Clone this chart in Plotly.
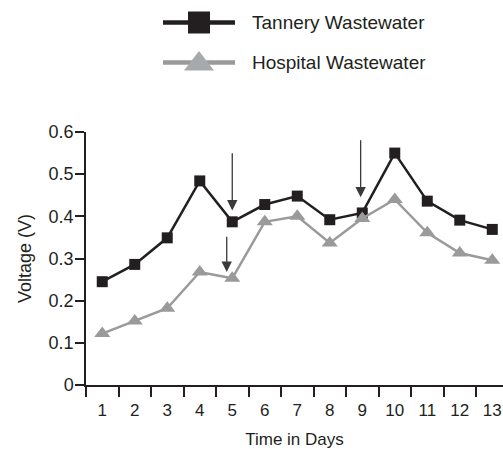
import plotly.graph_objects as go

days = list(range(1, 14))
tannery = [0.245, 0.286, 0.349, 0.484, 0.387, 0.428, 0.448, 0.392, 0.408, 0.550, 0.436, 0.391, 0.369]
hospital = [0.122, 0.152, 0.182, 0.268, 0.253, 0.387, 0.400, 0.337, 0.395, 0.440, 0.361, 0.313, 0.296]
series_names = ["Tannery Wastewater", "Hospital Wastewater"]

# arrows: (x, tail y, tip y)
arrow_x = [5.0, 4.83, 8.95]
arrow_tail = [0.553, 0.355, 0.584]
arrow_tip = [0.414, 0.268, 0.445]

y_ticks = [0, 0.1, 0.2, 0.3, 0.4, 0.5, 0.6]
y_ticktext = ["0", "0.1", "0.2", "0.3", "0.4", "0.5", "0.6"]

W, H = 503, 449
FONT = "Liberation Sans, Arial, sans-serif"
DARK = "#231f20"
GRAY = "#9a9a9a"
LGRAY = "#a8a9ab"

fig = go.Figure()
fig.add_trace(go.Scatter(x=days, y=tannery, mode="lines+markers", name=series_names[0],
                         line=dict(color=DARK, width=2.5),
                         marker=dict(symbol="square", size=11, color=DARK),
                         showlegend=False))
fig.add_trace(go.Scatter(x=days, y=hospital, mode="lines+markers", name=series_names[1],
                         line=dict(color=GRAY, width=2.5),
                         marker=dict(symbol="triangle-up", size=14, color=GRAY),
                         showlegend=False))

# custom legend on an overlay pixel axis
leg_rows_y = [22.5, 62.5]
leg_colors = [DARK, GRAY]
leg_mcolors = [DARK, LGRAY]
leg_symbols = ["square", "triangle-up"]
leg_sizes = [22, 26]
for i in range(2):
    fig.add_trace(go.Scatter(x=[163, 235], y=[leg_rows_y[i]] * 2, mode="lines",
                             line=dict(color=leg_colors[i], width=4.5),
                             xaxis="x2", yaxis="y2", showlegend=False, hoverinfo="skip"))
    fig.add_trace(go.Scatter(x=[199], y=[leg_rows_y[i] + (1.5 if i == 1 else 0)], mode="markers",
                             marker=dict(symbol=leg_symbols[i], size=leg_sizes[i], color=leg_mcolors[i]),
                             xaxis="x2", yaxis="y2", showlegend=False, hoverinfo="skip"))
    fig.add_annotation(x=250, y=leg_rows_y[i], xref="x2", yref="y2", text=series_names[i],
                       showarrow=False, xanchor="left", yanchor="middle",
                       font=dict(size=19, color=DARK, family=FONT))

for xa, yt, yh in zip(arrow_x, arrow_tail, arrow_tip):
    fig.add_annotation(x=xa, y=yh, ax=xa, ay=yt, xref="x", yref="y", axref="x", ayref="y",
                       text="", showarrow=True, arrowhead=2, arrowsize=1.6, arrowwidth=1.3,
                       arrowcolor="#3a3a3a", standoff=0, startstandoff=0)

x0 = 86 / W
y_bot = (H - 385) / H
y_top = (H - 132) / H
fig.update_layout(
    width=W, height=H,
    margin=dict(l=0, r=0, t=0, b=0, autoexpand=False),
    paper_bgcolor="white", plot_bgcolor="rgba(0,0,0,0)",
    font=dict(family=FONT, size=17, color=DARK),
    xaxis=dict(domain=[x0, 1], range=[0.5, 13.33], tickvals=days, ticktext=[str(d) for d in days],
               ticks="outside", ticklen=0, showline=True, linecolor=DARK, linewidth=1.5,
               showgrid=False, zeroline=False, automargin=False,
               minor=dict(tick0=0.5, dtick=1, ticks="outside", ticklen=10, tickcolor=DARK, tickwidth=1.5),
               tickfont=dict(size=17), ticklabelstandoff=9,
               title=dict(text="Time in Days", font=dict(size=17), standoff=20)),
    yaxis=dict(domain=[y_bot, y_top], range=[0, 0.6], tickvals=y_ticks, ticktext=y_ticktext,
               ticks="outside", ticklen=9, tickwidth=1.5, tickcolor=DARK, automargin=False,
               showline=True, linecolor=DARK, linewidth=1.5, showgrid=False, zeroline=False,
               tickfont=dict(size=18), ticklabelstandoff=-2,
               title=dict(text="Voltage (V)", font=dict(size=18), standoff=12)),
    xaxis2=dict(domain=[0, 1], range=[0, W], visible=False, anchor="y2"),
    yaxis2=dict(domain=[0, 1], range=[H, 0], visible=False, anchor="x2"),
)

fig.write_html("out.html", config={"displayModeBar": False},
               post_script="document.body.style.margin='0';document.body.style.overflow='hidden';")
